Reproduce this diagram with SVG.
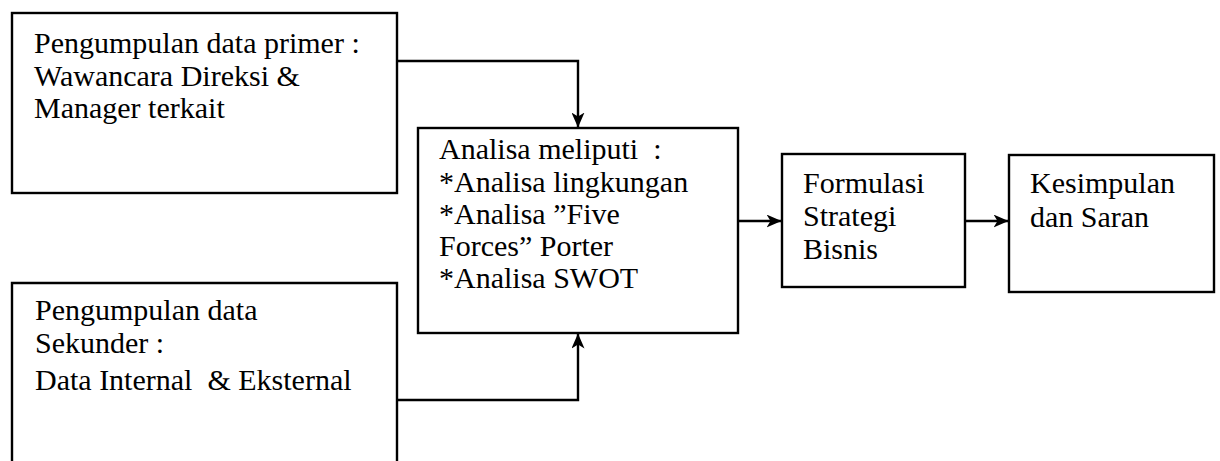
<svg xmlns="http://www.w3.org/2000/svg" width="1220" height="461" viewBox="0 0 1220 461">
<style>
.box{fill:none;stroke:#000;stroke-width:2.4}
.t{font-family:"Liberation Serif","Times New Roman",serif;font-size:30px;fill:#000}
.c{fill:none;stroke:#000;stroke-width:2.4}
</style>
<defs>
<marker id="ah" viewBox="0 0 15 13" refX="14.5" refY="6.5" markerWidth="15" markerHeight="13" markerUnits="userSpaceOnUse" orient="auto">
<path d="M0,0 L15,6.5 L0,13 L4,6.5 Z" fill="#000"/>
</marker>
</defs>
<rect width="1220" height="461" fill="#fff"/>
<g id="connectors">
<path class="c" d="M397,61 H578 V127" marker-end="url(#ah)"/>
<path class="c" d="M397,400 H578 V334" marker-end="url(#ah)"/>
<path class="c" d="M737,221 H781" marker-end="url(#ah)"/>
<path class="c" d="M965,221 H1008" marker-end="url(#ah)"/>
</g>
<g id="primer">
<rect class="box" x="12" y="13" width="385" height="180"/>
<text class="t" x="34" y="53">Pengumpulan data primer :</text>
<text class="t" x="34" y="86">Wawancara Direksi &amp;</text>
<text class="t" x="34" y="118">Manager terkait</text>
</g>
<g id="sekunder">
<path class="box" d="M12,470 V283 H397 V470"/>
<text class="t" x="35" y="320">Pengumpulan data</text>
<text class="t" x="35" y="353">Sekunder :</text>
<text class="t" x="35" y="390" xml:space="preserve">Data Internal  &amp; Eksternal</text>
</g>
<g id="analisa">
<rect class="box" x="418" y="128" width="320" height="205"/>
<text class="t" x="439" y="159" xml:space="preserve">Analisa meliputi  :</text>
<text class="t" x="439" y="192">*Analisa lingkungan</text>
<text class="t" x="439" y="224">*Analisa ”Five</text>
<text class="t" x="439" y="256">Forces” Porter</text>
<text class="t" x="439" y="288">*Analisa SWOT</text>
</g>
<g id="formulasi">
<rect class="box" x="782" y="154" width="183" height="133"/>
<text class="t" x="803" y="193">Formulasi</text>
<text class="t" x="803" y="226">Strategi</text>
<text class="t" x="803" y="259">Bisnis</text>
</g>
<g id="kesimpulan">
<rect class="box" x="1009" y="155" width="205" height="137"/>
<text class="t" x="1030" y="193">Kesimpulan</text>
<text class="t" x="1030" y="227">dan Saran</text>
</g>
</svg>
